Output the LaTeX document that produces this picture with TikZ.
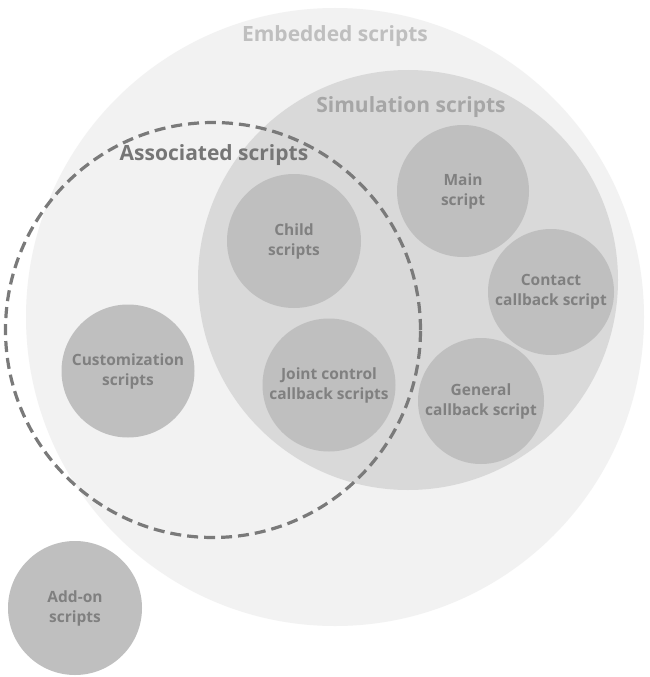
\documentclass[tikz,border=0pt]{standalone}
\usepackage{fontspec}
\setmainfont{Open Sans}
\definecolor{embfill}{HTML}{F2F2F2}
\definecolor{simfill}{HTML}{D9D9D9}
\definecolor{smallfill}{HTML}{BFBFBF}
\definecolor{smalltext}{HTML}{808080}
\definecolor{embtext}{HTML}{BFBFBF}
\definecolor{simtext}{HTML}{A6A6A6}
\definecolor{asstext}{HTML}{767676}
\definecolor{dashcol}{HTML}{7A7A7A}
\begin{document}
\begin{tikzpicture}[x=1pt,y=-1pt,
  region/.style={circle,draw=none,inner sep=0pt},
  script/.style={circle,fill=smallfill,draw=none,inner sep=0pt,align=center,
     text=smalltext,font=\fontsize{15.5}{20}\selectfont\bfseries},
  title/.style={inner sep=0pt,font=\fontsize{21}{24}\selectfont\bfseries}]
\useasboundingbox[fill=white] (0,0) rectangle (650,677);
\node[region,fill=embfill,minimum size=618pt] (emb) at (335,317) {};
\node[region,fill=simfill,minimum size=420pt] (sim) at (408,280) {};
\node[title,text=embtext] (embt) at (335,36) {Embedded scripts};
\node[title,text=simtext] (simt) at (411,107) {Simulation scripts};
\node[script,minimum size=132pt] (main) at (463,191) {Main\\script};
\node[script,minimum size=126pt] (contact) at (551,292) {Contact\\callback script};
\node[script,minimum size=126pt] (general) at (481,401) {General\\callback script};
\node[script,minimum size=134pt] (child) at (294,241) {Child\\scripts};
\node[script,minimum size=133pt] (joint) at (329,385) {Joint control\\callback scripts};
\node[script,minimum size=133pt] (custom) at (128,371) {Customization\\scripts};
\node[script,minimum size=134pt] (addon) at (75,608) {Add-on\\scripts};
\node[region,draw=dashcol,line width=3.2pt,dash pattern=on 11pt off 6pt,minimum size=415pt] (assoc) at (213,330) {};
\node[title,text=asstext] (asst) at (214,155) {Associated scripts};
\end{tikzpicture}
\end{document}
